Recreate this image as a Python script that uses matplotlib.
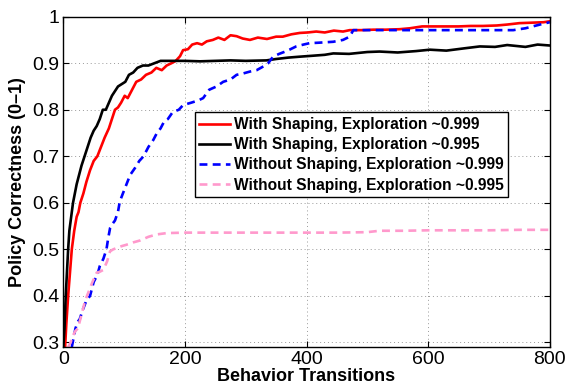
import matplotlib
matplotlib.use("Agg")
import matplotlib.pyplot as plt

plt.rcParams['font.family'] = ['Liberation Sans', 'DejaVu Sans']

labels = ["With Shaping, Exploration ~0.999",
          "With Shaping, Exploration ~0.995",
          "Without Shaping, Exploration ~0.999",
          "Without Shaping, Exploration ~0.995"]

red_x = [3,5,8,11,14,18,22,25,28,33,38,44,50,56,62,68,75,80,85,90,95,101,106,112,120,128,136,145,153,162,170,178,185,192,197,205,212,220,228,236,246,255,265,275,285,295,307,320,335,350,361,375,389,402,416,430,445,460,471,490,510,530,553,570,590,610,630,650,670,690,713,730,750,770,790,800]
red_y = [0.29,0.34,0.40,0.45,0.50,0.54,0.57,0.58,0.60,0.62,0.645,0.67,0.69,0.70,0.72,0.74,0.76,0.78,0.80,0.805,0.815,0.83,0.825,0.84,0.86,0.865,0.875,0.88,0.89,0.885,0.895,0.90,0.905,0.915,0.928,0.93,0.94,0.943,0.94,0.947,0.95,0.955,0.95,0.96,0.958,0.953,0.95,0.955,0.952,0.957,0.957,0.962,0.965,0.966,0.968,0.966,0.97,0.968,0.971,0.971,0.972,0.972,0.973,0.975,0.979,0.979,0.979,0.979,0.98,0.98,0.981,0.983,0.986,0.987,0.988,0.99]

black_x = [0,2,4,6,8,10,13,16,19,22,26,30,35,40,45,50,55,60,65,70,75,80,85,90,96,102,108,115,122,131,140,150,160,175,200,225,250,275,300,334,350,370,389,410,430,444,470,500,520,550,580,603,630,660,685,710,730,760,780,800]
black_y = [0.29,0.33,0.40,0.45,0.50,0.54,0.57,0.60,0.62,0.64,0.66,0.68,0.70,0.72,0.74,0.755,0.765,0.78,0.80,0.80,0.815,0.83,0.84,0.85,0.855,0.86,0.875,0.88,0.89,0.895,0.895,0.90,0.905,0.905,0.905,0.904,0.905,0.906,0.905,0.906,0.909,0.912,0.914,0.916,0.918,0.921,0.92,0.924,0.925,0.923,0.926,0.929,0.927,0.932,0.936,0.935,0.939,0.935,0.94,0.938]

blue_x = [14,17,20,24,27,32,38,44,50,56,60,66,71,74,77,81,85,90,93,98,104,110,118,125,132,140,148,154,160,166,172,180,190,197,210,222,230,240,252,263,275,285,296,307,318,329,337,345,355,365,372,383,395,405,420,444,460,471,477,500,540,580,620,660,700,740,760,775,790,800]
blue_y = [0.29,0.31,0.33,0.345,0.35,0.37,0.39,0.40,0.43,0.445,0.464,0.48,0.50,0.525,0.546,0.555,0.562,0.581,0.603,0.62,0.64,0.66,0.675,0.69,0.70,0.72,0.735,0.75,0.76,0.775,0.78,0.795,0.80,0.81,0.815,0.82,0.825,0.843,0.85,0.86,0.865,0.875,0.878,0.882,0.885,0.893,0.90,0.914,0.92,0.925,0.929,0.936,0.94,0.943,0.944,0.946,0.95,0.957,0.971,0.971,0.971,0.971,0.971,0.971,0.971,0.971,0.975,0.98,0.985,0.988]

pink_x = [8,12,16,20,24,28,32,36,42,48,55,60,66,72,77,82,88,96,104,115,126,140,153,170,200,250,300,350,400,450,500,520,560,600,650,700,750,800]
pink_y = [0.29,0.30,0.315,0.325,0.33,0.35,0.37,0.39,0.41,0.43,0.45,0.452,0.456,0.474,0.496,0.50,0.503,0.507,0.51,0.515,0.519,0.527,0.532,0.535,0.536,0.536,0.536,0.536,0.536,0.536,0.537,0.54,0.54,0.541,0.541,0.541,0.542,0.542]

x_ticks = [0, 200, 400, 600, 800]
y_ticks = [0.3, 0.4, 0.5, 0.6, 0.7, 0.8, 0.9, 1.0]
y_ticklabels = ["0.3", "0.4", "0.5", "0.6", "0.7", "0.8", "0.9", "1"]

fig = plt.figure(figsize=(5.65, 3.87), dpi=100)
ax = fig.add_axes([0.112, 0.103, 0.861, 0.854])

ax.plot(red_x, red_y, color='#ff0000', lw=1.9, label=labels[0])
ax.plot(black_x, black_y, color='black', lw=1.9, label=labels[1])
ax.plot(blue_x, blue_y, color='#0000ff', lw=1.9, ls=(0, (3, 2)), label=labels[2])
ax.plot(pink_x, pink_y, color='#ff99cc', lw=1.9, ls=(0, (3, 2)), label=labels[3])

ax.set_xlim(0, 800)
ax.set_ylim(0.29, 1.0)
ax.set_xticks(x_ticks)
ax.set_yticks(y_ticks)
ax.set_yticklabels(y_ticklabels)
ax.tick_params(direction='in', top=True, right=True, labelsize=14, length=4, width=0.8, pad=3)
ax.grid(True, color='#999999', ls=(0, (1, 3)), lw=0.7)
for s in ax.spines.values():
    s.set_linewidth(1.0)

ax.set_xlabel("Behavior Transitions", fontsize=13, fontweight='bold', labelpad=0)
ax.set_ylabel("Policy Correctness (0–1)", fontsize=13, fontweight='bold', labelpad=4)

leg = ax.legend(loc='upper left', bbox_to_anchor=(0.27, 0.71), prop={'size': 11.2, 'weight': 'bold'},
                frameon=True, fancybox=False, edgecolor='black', framealpha=1,
                handlelength=2.0, handletextpad=0.2, borderpad=0.3, labelspacing=0.33, borderaxespad=0)
leg.get_frame().set_linewidth(1.0)

fig.savefig("out.png", dpi=100)
